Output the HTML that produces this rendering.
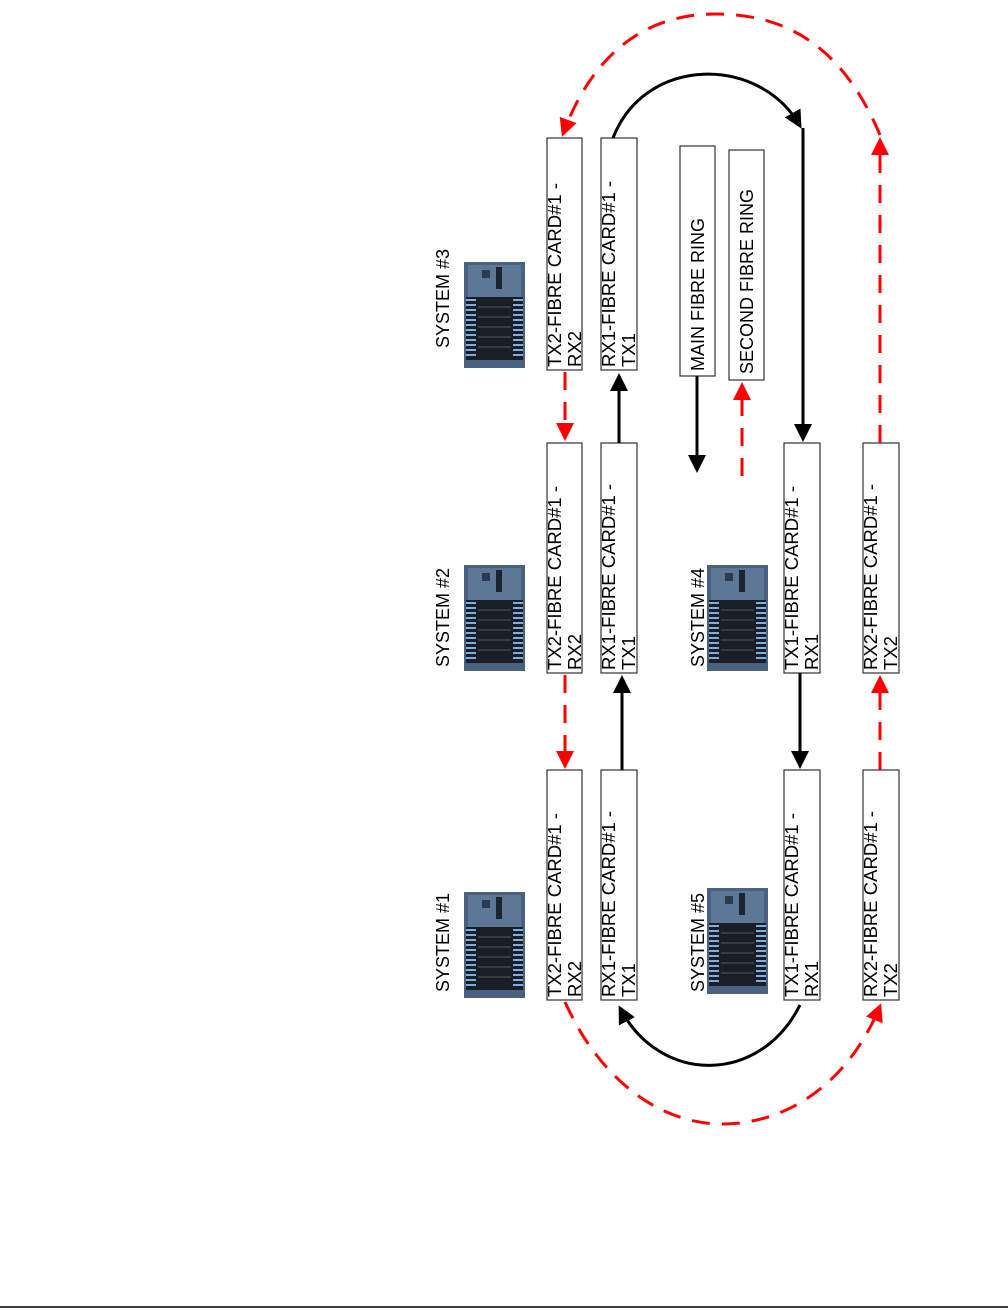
<!DOCTYPE html>
<html><head><style>html,body{margin:0;padding:0;background:#fff}svg{display:block}</style></head>
<body>
<svg width="1008" height="1311" viewBox="0 0 1008 1311" xmlns="http://www.w3.org/2000/svg" font-family="Liberation Sans, Arial, sans-serif">
<defs>
<marker id="ab" markerWidth="6" markerHeight="6" refX="5" refY="3" orient="auto" markerUnits="strokeWidth"><path d="M0,0 L6,3 L0,6 z" fill="#000"/></marker>
<marker id="ar" markerWidth="6" markerHeight="6" refX="5" refY="3" orient="auto" markerUnits="strokeWidth"><path d="M0,0 L6,3 L0,6 z" fill="#f00"/></marker>
<g id="rack">
<rect x="2" y="0" width="61" height="106" fill="#4a6280"/>
<rect x="6" y="3" width="53" height="32" fill="#5d7896"/>
<rect x="20" y="8" width="8" height="8" fill="#2a3a50"/>
<rect x="34" y="5" width="6" height="22" fill="#1c2430"/>
<rect x="4" y="35" width="57" height="63" fill="#1a1e26"/>
<g stroke="#7faede" stroke-width="2">
<line x1="4" y1="38" x2="14" y2="38"/><line x1="4" y1="43" x2="14" y2="43"/><line x1="4" y1="48" x2="14" y2="48"/><line x1="4" y1="53" x2="14" y2="53"/><line x1="4" y1="58" x2="14" y2="58"/><line x1="4" y1="63" x2="14" y2="63"/><line x1="4" y1="68" x2="14" y2="68"/><line x1="4" y1="73" x2="14" y2="73"/><line x1="4" y1="78" x2="14" y2="78"/><line x1="4" y1="83" x2="14" y2="83"/><line x1="4" y1="88" x2="14" y2="88"/><line x1="4" y1="93" x2="14" y2="93"/>
<line x1="51" y1="38" x2="61" y2="38"/><line x1="51" y1="43" x2="61" y2="43"/><line x1="51" y1="48" x2="61" y2="48"/><line x1="51" y1="53" x2="61" y2="53"/><line x1="51" y1="58" x2="61" y2="58"/><line x1="51" y1="63" x2="61" y2="63"/><line x1="51" y1="68" x2="61" y2="68"/><line x1="51" y1="73" x2="61" y2="73"/><line x1="51" y1="78" x2="61" y2="78"/><line x1="51" y1="83" x2="61" y2="83"/><line x1="51" y1="88" x2="61" y2="88"/><line x1="51" y1="93" x2="61" y2="93"/>
</g>
<g stroke="#555" stroke-width="1">
<line x1="16" y1="45" x2="49" y2="45"/><line x1="16" y1="55" x2="49" y2="55"/><line x1="16" y1="65" x2="49" y2="65"/><line x1="16" y1="75" x2="49" y2="75"/><line x1="16" y1="85" x2="49" y2="85"/>
</g>
</g>
</defs>

<use href="#rack" x="462" y="262"/>
<use href="#rack" x="462" y="565"/>
<use href="#rack" x="462" y="892"/>
<use href="#rack" x="705" y="565"/>
<use href="#rack" x="705" y="888"/>

<g font-size="18" fill="#000">
<text transform="translate(449,348) rotate(-90)">SYSTEM #3</text>
<text transform="translate(449,667) rotate(-90)">SYSTEM #2</text>
<text transform="translate(449,992) rotate(-90)">SYSTEM #1</text>
<text transform="translate(704,667) rotate(-90)">SYSTEM #4</text>
<text transform="translate(704,992) rotate(-90)">SYSTEM #5</text>
</g>

<g fill="#fff" stroke="#333" stroke-width="1.2">
<rect x="547" y="138" width="35" height="232"/>
<rect x="601" y="138" width="36" height="232"/>
<rect x="547" y="443" width="35" height="230"/>
<rect x="601" y="443" width="36" height="230"/>
<rect x="547" y="770" width="35" height="230"/>
<rect x="601" y="770" width="36" height="230"/>
<rect x="784" y="443" width="36" height="230"/>
<rect x="863" y="443" width="36" height="230"/>
<rect x="784" y="770" width="36" height="230"/>
<rect x="863" y="770" width="36" height="230"/>
<rect x="680" y="146" width="35" height="230"/>
<rect x="729" y="150" width="35" height="230"/>
</g>
<g font-size="18.5" fill="#000">
<text transform="translate(561,367) rotate(-90)">TX2-FIBRE CARD#1 -</text><text transform="translate(581,367) rotate(-90)">RX2</text>
<text transform="translate(615,367) rotate(-90)">RX1-FIBRE CARD#1 -</text><text transform="translate(635,367) rotate(-90)">TX1</text>
<text transform="translate(561,670) rotate(-90)">TX2-FIBRE CARD#1 -</text><text transform="translate(581,670) rotate(-90)">RX2</text>
<text transform="translate(615,670) rotate(-90)">RX1-FIBRE CARD#1 -</text><text transform="translate(635,670) rotate(-90)">TX1</text>
<text transform="translate(561,997) rotate(-90)">TX2-FIBRE CARD#1 -</text><text transform="translate(581,997) rotate(-90)">RX2</text>
<text transform="translate(615,997) rotate(-90)">RX1-FIBRE CARD#1 -</text><text transform="translate(635,997) rotate(-90)">TX1</text>
<text transform="translate(798,670) rotate(-90)">TX1-FIBRE CARD#1 -</text><text transform="translate(818,670) rotate(-90)">RX1</text>
<text transform="translate(877,670) rotate(-90)">RX2-FIBRE CARD#1 -</text><text transform="translate(897,670) rotate(-90)">TX2</text>
<text transform="translate(798,997) rotate(-90)">TX1-FIBRE CARD#1 -</text><text transform="translate(818,997) rotate(-90)">RX1</text>
<text transform="translate(877,997) rotate(-90)">RX2-FIBRE CARD#1 -</text><text transform="translate(897,997) rotate(-90)">TX2</text>
</g>
<g font-size="18" fill="#000">
<text transform="translate(704,371) rotate(-90)">MAIN FIBRE RING</text>
<text transform="translate(753,374) rotate(-90)">SECOND FIBRE RING</text>
</g>

<g stroke="#000" stroke-width="3" fill="none">
<line x1="619" y1="443" x2="619" y2="376" marker-end="url(#ab)"/>
<line x1="622" y1="770" x2="622" y2="678" marker-end="url(#ab)"/>
<line x1="800" y1="673" x2="800" y2="766" marker-end="url(#ab)"/>
<line x1="697" y1="376" x2="697" y2="470" marker-end="url(#ab)"/>
<line x1="803" y1="128" x2="803" y2="439" marker-end="url(#ab)"/>
<path d="M613,138 C645,55 760,55 800,126" marker-end="url(#ab)"/>
<path d="M800,1005 C760,1085 660,1085 620,1008" marker-end="url(#ab)"/>
</g>

<g stroke="#f00" stroke-width="3" fill="none" stroke-dasharray="18,12">
<line x1="565" y1="372" x2="565" y2="438" marker-end="url(#ar)"/>
<line x1="565" y1="675" x2="565" y2="766" marker-end="url(#ar)"/>
<line x1="880" y1="770" x2="880" y2="678" marker-end="url(#ar)"/>
<line x1="742" y1="476" x2="742" y2="385" marker-end="url(#ar)"/>
<line x1="880" y1="443" x2="880" y2="140" marker-end="url(#ar)"/>
<path d="M880,135 C840,40 780,14 715,14 C640,14 590,60 563,134" marker-end="url(#ar)"/>
<path d="M565,1002 C600,1080 660,1124 722,1124 C790,1124 850,1080 880,1006" marker-end="url(#ar)"/>
</g>

<line x1="0" y1="1307" x2="1008" y2="1307" stroke="#000" stroke-width="1.5"/>
</svg>
</body></html>
